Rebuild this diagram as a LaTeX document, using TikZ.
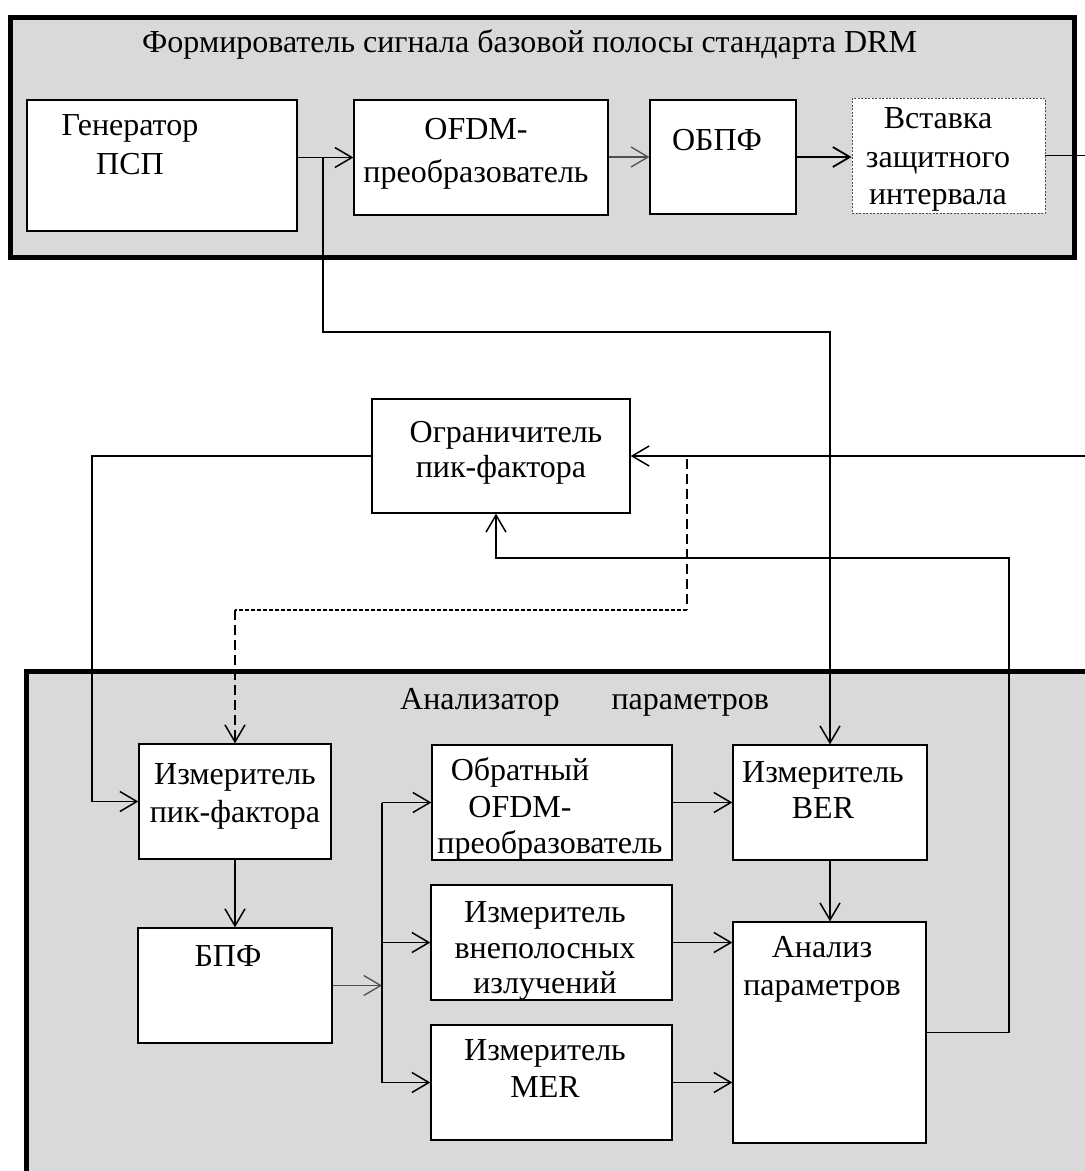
\documentclass[tikz,border=0pt]{standalone}
\usepackage{fontspec}
\setmainfont{Liberation Serif}
\usetikzlibrary{arrows.meta}
\definecolor{framegray}{RGB}{217,217,217}
\definecolor{linegray}{RGB}{80,80,80}
\begin{document}
\begin{tikzpicture}[x=1pt,y=-1pt,
  box/.style={draw=black, fill=white, line width=1.3pt, inner sep=0pt},
  dbox/.style={draw=linegray, fill=white, line width=0.8pt, dash pattern=on 2pt off 1.5pt, inner sep=0pt},
  txt/.style={anchor=base, inner sep=0pt, font=\fontsize{32}{38}\selectfont},
  conn/.style={line width=1.5pt, draw=black},
  tip/.style={-{Straight Barb[length=17pt,width=20pt,line width=1.5pt]}},
  arr/.style={conn, tip},
  garr/.style={line width=1.3pt, draw=linegray, -{Straight Barb[length=17pt,width=20pt,line width=1.3pt]}},
  longdash/.style={conn, dash pattern=on 10pt off 5pt},
  shortdash/.style={conn, dash pattern=on 4pt off 2pt}
]
\fill[white] (0,0) rectangle (1085,1171);
\useasboundingbox (0,0) rectangle (1085,1171);

% frames
\filldraw[fill=framegray, draw=black, line width=5pt] (10.5,17.5) rectangle (1074.5,257.5);
\fill[framegray] (26.5,671) rectangle (1085,1171);
\draw[line width=5pt] (26.5,1171) -- (26.5,671) -- (1085,671);

% boxes
\node[box, minimum width=270pt, minimum height=131pt] (gen)  at (162,165.5) {};
\node[box, minimum width=254pt, minimum height=115pt] (ofdm) at (481,157.5) {};
\node[box, minimum width=146pt, minimum height=114pt] (obpf) at (723,157) {};
\node[dbox, minimum width=193pt, minimum height=115pt] (vst) at (948.5,155.5) {};
\node[box, minimum width=258pt, minimum height=114pt] (ogr)  at (501,456) {};
\node[box, minimum width=192pt, minimum height=115pt] (ipf)  at (235,801.5) {};
\node[box, minimum width=194pt, minimum height=115pt] (bpf)  at (235,985.5) {};
\node[box, minimum width=240pt, minimum height=115pt] (obr)  at (552,802.5) {};
\node[box, minimum width=194pt, minimum height=115pt] (ber)  at (830,802.5) {};
\node[box, minimum width=241pt, minimum height=115pt] (vnp)  at (551.5,942.5) {};
\node[box, minimum width=241pt, minimum height=115pt] (mer)  at (551.5,1082.5) {};
\node[box, minimum width=193pt, minimum height=221pt] (an)   at (829.5,1032.5) {};

% coordinates
\coordinate (b1) at (323,157.5);
\coordinate (c1) at (323,332);
\coordinate (out) at (1085,155.5);
\coordinate (fb) at (1085,456);
\coordinate (d1) at (687,459);
\coordinate (d2) at (687,610);
\coordinate (d3) at (235,610);
\coordinate (l1) at (92,456);
\coordinate (r1) at (1009,1032.5);
\coordinate (r2) at (496,558);
\coordinate (s0) at (382,985.5);
\coordinate (s1) at (382,802.5);
\coordinate (s2) at (382,942.5);
\coordinate (s3) at (382,1082.5);

% connectors
\draw[arr] (gen.east |- ofdm.west) -- (ofdm.west);
\draw[arr] (b1) -- (c1) -| (ber.north);
\draw[garr] (ofdm.east |- obpf.west) -- (obpf.west);
\draw[conn, line width=2.5pt, -{Straight Barb[length=17pt,width=20pt,line width=1.8pt]}] (obpf.east) -- (vst.west |- obpf.east);
\draw[conn] (vst.east) -- (out);
\draw[arr] (fb) -- (ogr.east);
\draw[longdash] (d1) -- (d2);
\draw[shortdash] (d2) -- (d3);
\draw[longdash, tip] (d3) -- (ipf.north);
\draw[arr] (ogr.west) -- (l1) |- (ipf.west);
\draw[arr] (an.east) -- (r1) |- (r2) -- (r2 |- ogr.south);
\draw[arr] (ipf.south) -- (bpf.north);
\draw[garr] (bpf.east) -- (s0);
\draw[conn] (s1) -- (s3);
\draw[arr] (s1) -- (obr.west);
\draw[arr] (s2) -- (vnp.west);
\draw[arr] (s3) -- (mer.west);
\draw[arr] (obr.east) -- (ber.west);
\draw[arr] (ber.south) -- (ber.south |- an.north);
\draw[arr] (vnp.east) -- (an.west |- vnp.east);
\draw[arr] (mer.east) -- (an.west |- mer.east);

% texts
\node[txt, anchor=base west] (title) at (142,52) {Формирователь сигнала базовой полосы стандарта DRM};
\node[txt] (gen1) at (130,135) {Генератор};
\node[txt] (gen2) at (130,174) {ПСП};
\node[txt] (ofdm1) at (476,139) {OFDM-};
\node[txt] (ofdm2) at (476,182) {преобразователь};
\node[txt] (obpf1) at (717,150) {ОБПФ};
\node[txt] (vst1) at (938,128) {Вставка};
\node[txt] (vst2) at (938,167) {защитного};
\node[txt] (vst3) at (938,204) {интервала};
\node[txt] (ogr1) at (506,442) {Ограничитель};
\node[txt] (ogr2) at (501,477) {пик-фактора};
\node[txt, anchor=base west] (atitle) at (400,709) {Анализатор\hspace{52pt}параметров};
\node[txt] (ipf1) at (235,784) {Измеритель};
\node[txt] (ipf2) at (235,822) {пик-фактора};
\node[txt] (obr1) at (520,780) {Обратный};
\node[txt] (obr2) at (520,817) {OFDM-};
\node[txt] (obr3) at (550,853) {преобразователь};
\node[txt] (ber1) at (823,782) {Измеритель};
\node[txt] (ber2) at (823,818) {BER};
\node[txt] (bpf1) at (228,966) {БПФ};
\node[txt] (vnp1) at (545,922) {Измеритель};
\node[txt] (vnp2) at (545,958) {внеполосных};
\node[txt] (vnp3) at (545,993) {излучений};
\node[txt] (mer1) at (545,1060) {Измеритель};
\node[txt] (mer2) at (545,1097) {MER};
\node[txt] (an1) at (822,957) {Анализ};
\node[txt] (an2) at (822,995) {параметров};
\end{tikzpicture}
\end{document}
